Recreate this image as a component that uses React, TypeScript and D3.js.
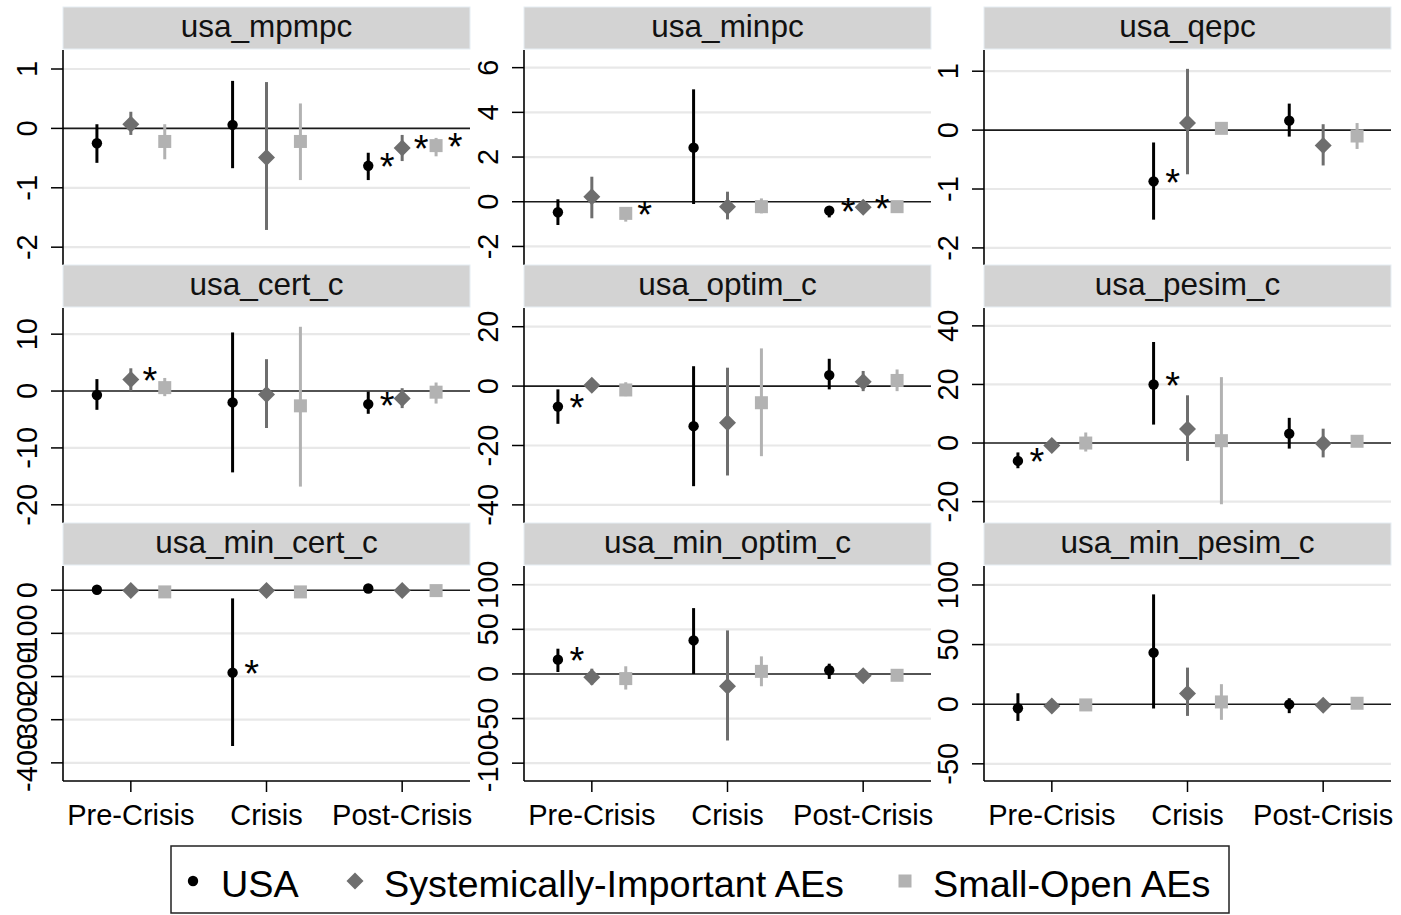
import React from "react";
import * as d3 from "d3";

const periods = ["Pre-Crisis", "Crisis", "Post-Crisis"];
const groups = ["USA", "Systemically-Important AEs", "Small-Open AEs"];
const panelNames = [
  "usa_mpmpc", "usa_minpc", "usa_qepc",
  "usa_cert_c", "usa_optim_c", "usa_pesim_c",
  "usa_min_cert_c", "usa_min_optim_c", "usa_min_pesim_c",
];

// y axis ticks and range of each panel
const yTicks = [
  [1, 0, -1, -2], [6, 4, 2, 0, -2], [1, 0, -1, -2],
  [10, 0, -10, -20], [20, 0, -20, -40], [40, 20, 0, -20],
  [0, -100, -200, -300, -400], [100, 50, 0, -50, -100], [100, 50, 0, -50],
];
const yRanges = [
  [-2.3, 1.32], [-2.83, 6.79], [-2.29, 1.36],
  [-23.2, 14.6], [-46.1, 26.3], [-27.3, 46.1],
  [-442, 56], [-120, 121], [-64.4, 115.9],
];

// [period, group, coef, lower, upper, significant]
const mpmpc = [
  [0, 0, -0.25, -0.58, 0.07, 0], [0, 1, 0.07, -0.11, 0.28, 0], [0, 2, -0.22, -0.52, 0.07, 0],
  [1, 0, 0.06, -0.67, 0.8, 0], [1, 1, -0.49, -1.71, 0.78, 0], [1, 2, -0.22, -0.87, 0.42, 0],
  [2, 0, -0.63, -0.87, -0.41, 1], [2, 1, -0.33, -0.55, -0.11, 1], [2, 2, -0.29, -0.47, -0.16, 1],
];
const minpc = [
  [0, 0, -0.47, -1.04, 0.11, 0], [0, 1, 0.22, -0.74, 1.12, 0], [0, 2, -0.52, -0.89, -0.25, 1],
  [1, 0, 2.42, -0.1, 5.03, 0], [1, 1, -0.22, -0.79, 0.45, 0], [1, 2, -0.22, -0.52, 0.15, 0],
  [2, 0, -0.4, -0.7, -0.19, 1], [2, 1, -0.25, -0.49, -0.01, 1], [2, 2, -0.22, -0.4, -0.07, 0],
];
const qepc = [
  [1, 0, -0.87, -1.52, -0.21, 1], [1, 1, 0.12, -0.75, 1.04, 0], [1, 2, 0.03, -0.03, 0.09, 0],
  [2, 0, 0.16, -0.11, 0.45, 0], [2, 1, -0.26, -0.6, 0.1, 0], [2, 2, -0.1, -0.32, 0.12, 0],
];
const cert_c = [
  [0, 0, -0.7, -3.3, 2.1, 0], [0, 1, 2.05, 0.05, 4.0, 1], [0, 2, 0.6, -0.9, 2.3, 0],
  [1, 0, -2.0, -14.3, 10.3, 0], [1, 1, -0.6, -6.5, 5.6, 0], [1, 2, -2.6, -16.8, 11.3, 0],
  [2, 0, -2.3, -4.0, -0.1, 1], [2, 1, -1.3, -3.0, 0.5, 0], [2, 2, -0.2, -2.2, 1.5, 0],
];
const optim_c = [
  [0, 0, -6.9, -12.7, -1.1, 1], [0, 1, 0.3, -1.1, 1.3, 0], [0, 2, -1.3, -3.4, 1.3, 0],
  [1, 0, -13.5, -33.7, 6.7, 0], [1, 1, -12.3, -30.1, 6.2, 0], [1, 2, -5.6, -23.6, 12.7, 0],
  [2, 0, 3.7, -1.1, 9.2, 0], [2, 1, 1.5, -1.7, 5.1, 0], [2, 2, 1.9, -1.7, 5.6, 0],
];
const pesim_c = [
  [0, 0, -6.1, -8.6, -3.2, 1], [0, 1, -0.8, -2.3, 0.5, 0], [0, 2, 0, -2.9, 3.6, 0],
  [1, 0, 20.0, 6.3, 34.5, 1], [1, 1, 4.8, -6.1, 16.3, 0], [1, 2, 0.8, -20.9, 22.5, 0],
  [2, 0, 3.2, -1.9, 8.6, 0], [2, 1, -0.2, -4.9, 4.9, 0], [2, 2, 0.6, -0.5, 1.7, 0],
];
const min_cert_c = [
  [0, 0, 1, -3, 5, 0], [0, 1, -1, -4, 2, 0], [0, 2, -4, -7, -1, 0],
  [1, 0, -191, -361, -19, 1], [1, 1, -1, -5, 3, 0], [1, 2, -4, -8, 0, 0],
  [2, 0, 4, 0, 8, 0], [2, 1, -1, -4, 2, 0], [2, 2, -1, -4, 2, 0],
];
const min_optim_c = [
  [0, 0, 16, 2.2, 28.3, 1], [0, 1, -3.7, -12, 5.9, 0], [0, 2, -5.2, -17.5, 8.6, 0],
  [1, 0, 37.6, 0, 73.8, 0], [1, 1, -13.8, -74.6, 48.8, 0], [1, 2, 2.9, -13.8, 19.7, 0],
  [2, 0, 4.1, -5.6, 11.5, 0], [2, 1, -1.9, -5, 1.5, 0], [2, 2, -1.5, -4, 1, 0],
];
const min_pesim_c = [
  [0, 0, -3.4, -14, 9.2, 0], [0, 1, -1.4, -3.5, 0.8, 0], [0, 2, -0.6, -3, 2, 0],
  [1, 0, 43.2, -3.6, 92.1, 0], [1, 1, 8.9, -9.8, 30.7, 0], [1, 2, 1.9, -13.1, 16.8, 0],
  [2, 0, -0.1, -7.5, 5, 0], [2, 1, -0.8, -3, 1.5, 0], [2, 2, 0.8, -1, 2.5, 0],
];
const panelData = [mpmpc, minpc, qepc, cert_c, optim_c, pesim_c, min_cert_c, min_optim_c, min_pesim_c];

const colors = ["#000000", "#6e6e6e", "#b2b2b2"];
const groupOffset = [-0.25, 0, 0.25];
const font = "'Liberation Sans', Arial, sans-serif";

const colLeft = [63, 524, 984];
const stripTop = [7, 265, 523];
const plotW = 407;
const plotH = 215;

function Marker({ g, x, y, s = 1 }: { g: number; x: number; y: number; s?: number }) {
  if (g === 0) return <circle cx={x} cy={y} r={5.2 * s} fill={colors[0]} />;
  if (g === 1) {
    const h = 8.5 * s;
    return <path d={`M${x},${y - h}L${x + h},${y}L${x},${y + h}L${x - h},${y}Z`} fill={colors[1]} />;
  }
  const h = 6.5 * s;
  return <rect x={x - h} y={y - h} width={2 * h} height={2 * h} fill={colors[2]} />;
}

function Panel({ idx }: { idx: number }) {
  const col = idx % 3;
  const row = Math.floor(idx / 3);
  const left = colLeft[col];
  const sTop = stripTop[row];
  const top = sTop + 43;
  const x = d3.scaleLinear().domain([0.5, 3.5]).range([left, left + plotW]);
  const y = d3.scaleLinear().domain(yRanges[idx]).range([top + plotH, top]);
  const data = panelData[idx];
  return (
    <g>
      <rect x={left} y={sTop} width={plotW} height={42} fill="#d3d3d3" stroke="#e6eef4" strokeWidth={1} />
      <text x={left + plotW / 2} y={sTop + 29.5} textAnchor="middle" fontSize={31.5} fontFamily={font} fill="#111">
        {panelNames[idx]}
      </text>
      {yTicks[idx].map((t) => (
        <g key={t}>
          {t !== 0 && <line x1={left} x2={left + plotW} y1={y(t)} y2={y(t)} stroke="#e8e8e8" strokeWidth={2.2} />}
          <line x1={left - 12} x2={left} y1={y(t)} y2={y(t)} stroke="#000" strokeWidth={1.5} />
          <text
            transform={`translate(${left - 26},${y(t)}) rotate(-90)`}
            textAnchor="middle"
            fontSize={29}
            fontFamily={font}
            fill="#000"
          >
            {t}
          </text>
        </g>
      ))}
      <line x1={left} x2={left + plotW} y1={y(0)} y2={y(0)} stroke="#1a1a1a" strokeWidth={1.6} />
      <line x1={left} x2={left} y1={top} y2={top + plotH} stroke="#000" strokeWidth={1.6} />
      {row === 2 && (
        <g>
          <line x1={left} x2={left + plotW} y1={top + plotH} y2={top + plotH} stroke="#000" strokeWidth={1.6} />
          {periods.map((p, i) => (
            <g key={p}>
              <line x1={x(i + 1)} x2={x(i + 1)} y1={top + plotH} y2={top + plotH + 11} stroke="#000" strokeWidth={1.5} />
              <text x={x(i + 1)} y={825} textAnchor="middle" fontSize={29} fontFamily={font} fill="#000">
                {p}
              </text>
            </g>
          ))}
        </g>
      )}
      {data.map((d, i) => {
        const px = x(d[0] + 1 + groupOffset[d[1]]);
        return (
          <g key={i}>
            <line x1={px} x2={px} y1={y(d[3])} y2={y(d[4])} stroke={colors[d[1]]} strokeWidth={3} />
            <Marker g={d[1]} x={px} y={y(d[2])} />
            {d[5] === 1 && (
              <text x={px + 19} y={y(d[2]) + 14.5} textAnchor="middle" fontSize={38} fontFamily={font} fill="#000">
                *
              </text>
            )}
          </g>
        );
      })}
    </g>
  );
}

const legendX = [193, 355, 905];
const legendTextX = [221, 384, 933];

export default function App() {
  return (
    <svg width={1401} height={915} style={{ position: "absolute", left: 0, top: 0, background: "#fff" }}>
      <rect x={0} y={0} width={1401} height={915} fill="#fff" />
      {panelNames.map((_, i) => (
        <Panel key={i} idx={i} />
      ))}
      <rect x={171} y={846} width={1058} height={67} fill="#fff" stroke="#222" strokeWidth={1.5} />
      {groups.map((g, i) => (
        <g key={g}>
          <Marker g={i} x={legendX[i]} y={881} s={1} />
          <text x={legendTextX[i]} y={897} fontSize={37.8} fontFamily={font} fill="#000">
            {g}
          </text>
        </g>
      ))}
    </svg>
  );
}
